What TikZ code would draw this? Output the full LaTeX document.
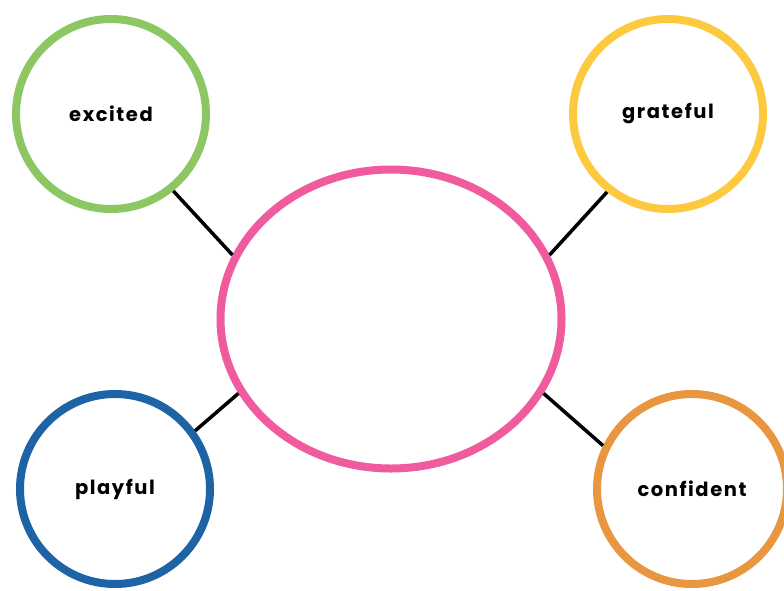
\documentclass[tikz,border=0pt]{standalone}
\usepackage{fontspec}
\setmainfont{Poppins}[LetterSpace=8]
\usepackage{tikz}
\usetikzlibrary{shapes.geometric}
\definecolor{feelgreen}{HTML}{8DC763}
\definecolor{feelyellow}{HTML}{FDC93F}
\definecolor{feelpink}{HTML}{EF5B9C}
\definecolor{feelblue}{HTML}{1E63A6}
\definecolor{feelorange}{HTML}{E89640}

\begin{document}
\begin{tikzpicture}[x=1pt, y=-1pt,
  every node/.style={font=\fontsize{19.5}{22}\selectfont\bfseries},
  feeling/.style={circle, draw, line width=8pt, minimum size=190pt, inner sep=0pt},
  link/.style={line width=3.5pt, black}]

\useasboundingbox (0,0) rectangle (784,590);

% Central ellipse
\node[ellipse, draw=feelpink, line width=8pt, minimum width=341pt, minimum height=299pt, inner sep=0pt] (centre) at (391,319) {};

% Feeling circles
\node[feeling, draw=feelgreen] (excited) at (111,114) {excited};
\node[feeling, draw=feelyellow] (grateful) at (668,114) {grateful};
\node[feeling, draw=feelblue] (playful) at (115,489) {playful};
\node[feeling, draw=feelorange] (confident) at (692,489) {confident};

% Links to the centre
\draw[link] (excited.-51) -- (centre.158);
\draw[link] (grateful.232) -- (centre.22);
\draw[link] (playful.36) -- (centre.206);
\draw[link] (confident.154) -- (centre.-26);

\end{tikzpicture}
\end{document}
